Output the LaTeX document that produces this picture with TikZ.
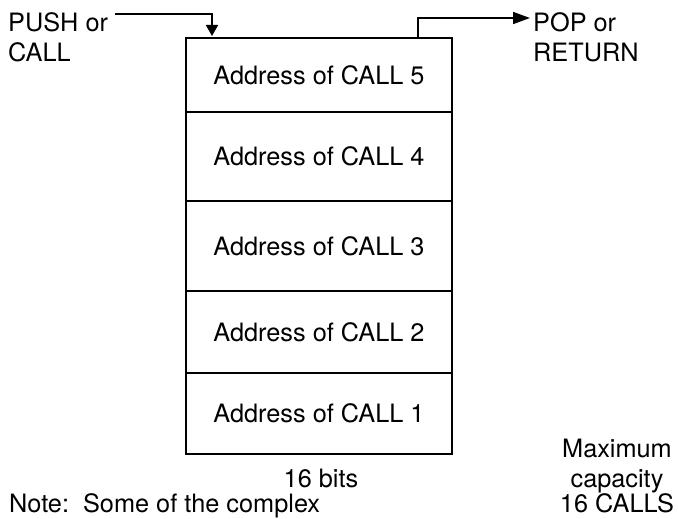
\documentclass[tikz,border=0pt]{standalone}
\usepackage{fontspec}
\setmainfont{TeX Gyre Heros}
\usetikzlibrary{arrows.meta}
\begin{document}
\begin{tikzpicture}[x=1pt,y=-1pt,
  rowbox/.style={draw,line width=2.4pt,minimum width=266pt,inner sep=0pt,anchor=north,font=\fontsize{25.3}{30}\selectfont},
  lbl/.style={inner sep=0pt,font=\fontsize{25.3}{30}\selectfont},
  conn/.style={line width=1.6pt}]
\useasboundingbox (0,0) rectangle (678,519);
\node[rowbox,minimum height=74pt] (r5) at (319,37) {Address of CALL 5};
\node[rowbox,minimum height=89pt] (r4) at (319,111) {Address of CALL 4};
\node[rowbox,minimum height=90pt] (r3) at (319,200) {Address of CALL 3};
\node[rowbox,minimum height=82pt] (r2) at (319,290) {Address of CALL 2};
\node[rowbox,minimum height=81pt] (r1) at (319,372) {Address of CALL 1};
% labels
\node[lbl,anchor=base west] (push1) at (8,32) {PUSH or};
\node[lbl,anchor=base west] (push2) at (8,62) {CALL};
\node[lbl,anchor=base west] (pop1) at (533,32) {POP or};
\node[lbl,anchor=base west] (pop2) at (533,62) {RETURN};
\node[lbl,anchor=base] (bits) at (321,487) {16 bits};
\node[lbl,anchor=base] (max1) at (617,457) {Maximum};
\node[lbl,anchor=base] (max2) at (617,487) {capacity};
\node[lbl,anchor=base] (max3) at (617,512) {16 CALLS};
\node[lbl,anchor=base west] (note) at (9,512) {Note:\ \ Some of the complex};
% connectors
\coordinate (pushstart) at (115,14);
\coordinate (pushend) at (212,36);
\draw[conn,-{Triangle[length=11pt,width=12pt]}] (pushstart) -| (pushend);
\coordinate (popstart) at (418,37);
\coordinate (popend) at (530,18);
\draw[conn,-{Triangle[length=17pt,width=12pt]}] (popstart) |- (popend);
\end{tikzpicture}
\end{document}
